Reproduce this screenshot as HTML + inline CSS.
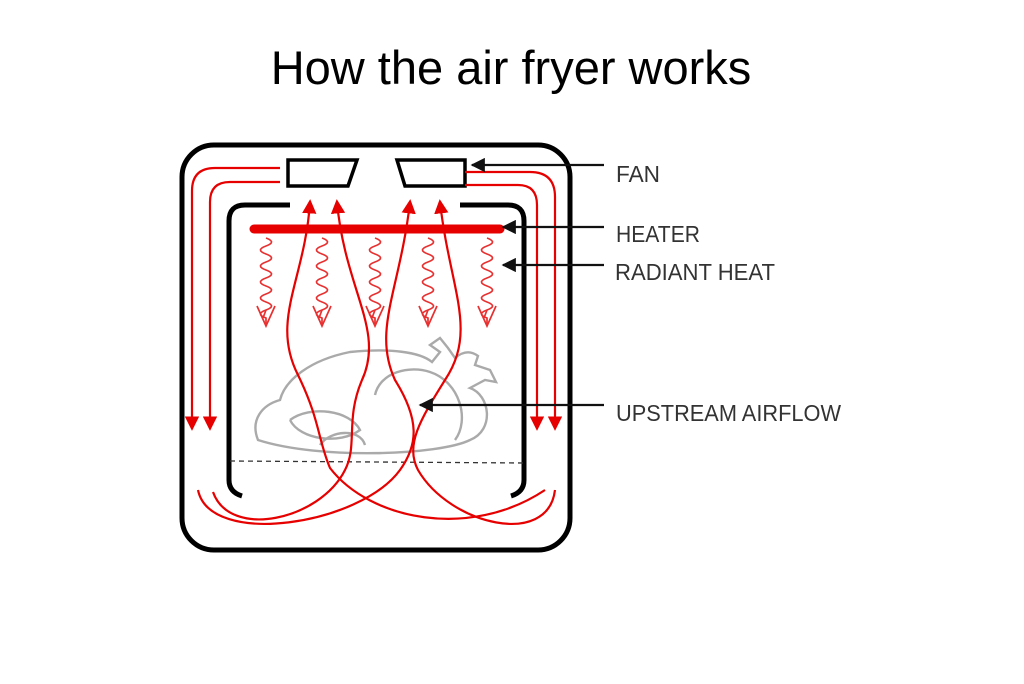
<!DOCTYPE html>
<html><head><meta charset="utf-8"><style>
html,body{margin:0;padding:0;background:#fff;}
svg{display:block}
</style></head><body>
<svg width="1024" height="684" viewBox="0 0 1024 684" xmlns="http://www.w3.org/2000/svg">
<defs>
<marker id="ar" viewBox="0 0 10 10" refX="8" refY="5" markerWidth="6.5" markerHeight="6.5" orient="auto-start-reverse" markerUnits="strokeWidth"><path d="M0,0 L10,5 L0,10 z" fill="#e60000"/></marker>
<marker id="ab" viewBox="0 0 10 10" refX="9" refY="5" markerWidth="6.5" markerHeight="6.5" orient="auto" markerUnits="strokeWidth"><path d="M0,0 L10,5 L0,10 z" fill="#111"/></marker>
<g id="wave" fill="none" stroke="#e83030" stroke-width="1.7">
<path d="M0,238 q11,4 0,8 q-11,4 0,8 q11,4 0,8 q-11,4 0,8 q11,4 0,8 q-11,4 0,8 q11,4 0,8 q-11,4 0,8 q11,4 0,8 q-11,4 0,8 L0,325"/>
<path d="M-9,306 L0,326 L9,306 M-3,318 L0,310"/>
</g>
</defs>
<text x="511" y="84" text-anchor="middle" font-family="Liberation Sans, Arial, sans-serif" font-size="47" fill="#000">How the air fryer works</text>

<rect x="182" y="145" width="388" height="405" rx="32" fill="none" stroke="#000" stroke-width="5"/>
<path d="M288,160 H357 L348,186 H288 Z" fill="#fff" stroke="#000" stroke-width="3.5"/>
<path d="M397,160 H465 V186 H405 Z" fill="#fff" stroke="#000" stroke-width="3.5"/>
<path d="M290,205 H245 Q229,205 229,221 V480 Q229,492 242,496" fill="none" stroke="#000" stroke-width="5"/>
<path d="M460,205 H508 Q524,205 524,221 V480 Q524,492 511,496" fill="none" stroke="#000" stroke-width="5"/>
<line x1="230" y1="461" x2="524" y2="463" stroke="#333" stroke-width="1.3" stroke-dasharray="5,4"/>

<g fill="none" stroke="#aaa" stroke-width="2.4">
<path d="M258,440 C250,420 262,405 280,400 C285,380 310,360 350,352 C390,348 420,352 432,362 L440,352 L430,345 L440,338 L448,348 L455,358 C462,352 470,350 478,356 L475,365 L490,370 L496,382 L485,380 L470,388 C490,395 495,430 470,440 C440,455 320,460 258,440 Z"/>
<path d="M290,420 C310,405 350,410 360,430 C340,445 300,440 290,420"/>
<path d="M375,395 C380,372 410,365 430,372 C460,382 470,420 455,440"/>
<path d="M320,445 C330,430 360,428 365,445"/>
</g>

<line x1="254" y1="229" x2="500" y2="229" stroke="#e60000" stroke-width="9" stroke-linecap="round"/>

<use href="#wave" x="266"/>
<use href="#wave" x="322"/>
<use href="#wave" x="375"/>
<use href="#wave" x="428"/>
<use href="#wave" x="487"/>

<g fill="none" stroke="#e60000" stroke-width="2.2">
<path d="M280,168 H215 Q192,168 192,191 V428" marker-end="url(#ar)"/>
<path d="M280,182 H230 Q210,182 210,202 V428" marker-end="url(#ar)"/>
<path d="M465,172 H530 Q555,172 555,197 V428" marker-end="url(#ar)"/>
<path d="M465,185 H518 Q537,185 537,205 V428" marker-end="url(#ar)"/>
<path d="M310,202 C305,280 270,320 298,375 C320,420 318,440 330,468 C370,520 470,540 545,490" marker-start="url(#ar)"/>
<path d="M337,202 C345,290 385,330 362,380 C345,420 358,445 345,470 C320,520 230,540 213,492" marker-start="url(#ar)"/>
<path d="M410,202 C400,290 372,330 395,380 C420,420 418,445 400,470 C360,525 210,548 198,490" marker-start="url(#ar)"/>
<path d="M440,202 C450,290 478,330 445,380 C420,420 405,445 418,470 C450,525 548,548 555,490" marker-start="url(#ar)"/>
</g>

<g stroke="#111" stroke-width="2.2">
<line x1="604" y1="165" x2="472" y2="165" marker-end="url(#ab)"/>
<line x1="604" y1="227" x2="503" y2="227" marker-end="url(#ab)"/>
<line x1="604" y1="265" x2="503" y2="265" marker-end="url(#ab)"/>
<line x1="604" y1="405" x2="420" y2="405" marker-end="url(#ab)"/>
</g>
<g font-family="Liberation Sans, Arial, sans-serif" font-size="23" fill="#333">
<text x="616" y="182" textLength="44" lengthAdjust="spacingAndGlyphs">FAN</text>
<text x="616" y="242" textLength="84" lengthAdjust="spacingAndGlyphs">HEATER</text>
<text x="615" y="280" textLength="160" lengthAdjust="spacingAndGlyphs">RADIANT HEAT</text>
<text x="616" y="421" textLength="225" lengthAdjust="spacingAndGlyphs">UPSTREAM AIRFLOW</text>
</g>
</svg>
</body></html>
